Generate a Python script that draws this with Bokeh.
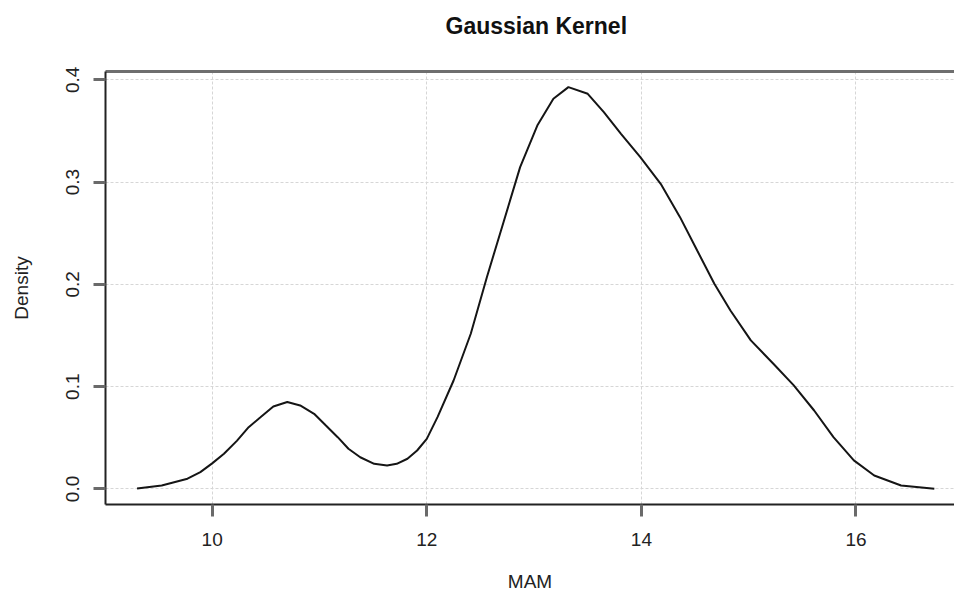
from bokeh.plotting import figure
from bokeh.models import FixedTicker, Range1d, LinearAxis
from bokeh.embed import file_html
from bokeh.resources import INLINE

# Kernel density estimate (MAM vs Density)
mam_x = [9.30, 9.53, 9.77, 9.89, 10.00, 10.11, 10.23, 10.34, 10.45, 10.57,
         10.70, 10.82, 10.95, 11.06, 11.17, 11.27, 11.38, 11.51, 11.63, 11.72,
         11.82, 11.91, 12.00, 12.10, 12.25, 12.41, 12.56, 12.72, 12.87, 13.03,
         13.18, 13.32, 13.50, 13.65, 13.81, 13.99, 14.18, 14.36, 14.52, 14.68,
         14.83, 15.02, 15.23, 15.42, 15.61, 15.79, 15.98, 16.17, 16.42, 16.73]
density_y = [0.0005, 0.0034, 0.010, 0.0164, 0.025, 0.0344, 0.047, 0.0604, 0.070, 0.0806,
             0.085, 0.0816, 0.0735, 0.062, 0.0506, 0.0393, 0.031, 0.0246, 0.023, 0.0246,
             0.0295, 0.0376, 0.049, 0.0702, 0.106, 0.1517, 0.207, 0.2625, 0.3146, 0.3553,
             0.3814, 0.3928, 0.3863, 0.3683, 0.3472, 0.3243, 0.2983, 0.2657, 0.2331, 0.2006,
             0.1745, 0.1452, 0.1224, 0.1012, 0.0767, 0.0506, 0.0279, 0.0132, 0.0034, 0.0002]

x_ticks = [10, 12, 14, 16]
y_ticks = [0.0, 0.1, 0.2, 0.3, 0.4]
y_tick_labels = ["0.0", "0.1", "0.2", "0.3", "0.4"]
title_text = "Gaussian Kernel"

FONT = "Liberation Sans"

p = figure(width=954, height=594, output_backend="svg", toolbar_location=None,
           x_range=Range1d(9.006, 16.918), y_range=Range1d(-0.0152, 0.4081),
           min_border_left=105, min_border_right=0, min_border_top=71,
           min_border_bottom=90, title=title_text,
           x_axis_label="MAM", y_axis_label="Density")
p.outline_line_color = None
p.background_fill_color = "white"
p.border_fill_color = "white"

bottom_axis = p.below[0]
left_axis = p.left[0]

p.title.align = "left"
p.title.offset = 340
p.title.vertical_align = "top"
p.title.standoff = 0
p.title.text_font = FONT
p.title.text_font_size = "23px"
p.title.text_font_style = "bold"
p.title.text_color = "#111111"

# grid
for g in (p.xgrid, p.ygrid):
    g.grid_line_color = "#d6d6d6"
    g.grid_line_dash = "3 2"
    g.grid_line_width = 1
p.xgrid.ticker = FixedTicker(ticks=x_ticks)
p.ygrid.ticker = FixedTicker(ticks=y_ticks)

# axes
for ax in (bottom_axis, left_axis):
    ax.axis_line_color = "#222222"
    ax.axis_line_width = 2
    ax.major_tick_line_color = "#6a6a6a"
    ax.major_tick_line_width = 3
    ax.major_tick_in = 0
    ax.major_tick_out = 12
    ax.minor_tick_line_color = None
    ax.major_label_text_font = FONT
    ax.major_label_text_font_size = "19px"
    ax.major_label_text_color = "#222222"
    ax.axis_label_text_font = FONT
    ax.axis_label_text_font_size = "19px"
    ax.axis_label_text_font_style = "normal"
    ax.axis_label_text_color = "#222222"

bottom_axis.ticker = FixedTicker(ticks=x_ticks)
bottom_axis.major_label_standoff = 16
bottom_axis.axis_label_standoff = 22

left_axis.ticker = FixedTicker(ticks=y_ticks)
left_axis.major_label_overrides = {t: s for t, s in zip(y_ticks, y_tick_labels)}
left_axis.major_label_orientation = "vertical"
left_axis.major_label_standoff = 14
left_axis.axis_label_standoff = 32

# top border of the plot box: an axis whose single tick is invisible,
# used only for its line and to leave room above the box for the title
top_axis = LinearAxis(ticker=FixedTicker(ticks=[13]), axis_line_color="#6e6e6e",
                      axis_line_width=3, major_tick_line_color=None,
                      major_tick_in=0, major_tick_out=31,
                      minor_tick_line_color=None, major_label_standoff=0,
                      major_label_overrides={13: ""},
                      major_label_text_font_size="1px")
p.add_layout(top_axis, "above")

p.line(mam_x, density_y, line_color="#151515", line_width=2)

open("out.html", "w").write(file_html(p, INLINE))
